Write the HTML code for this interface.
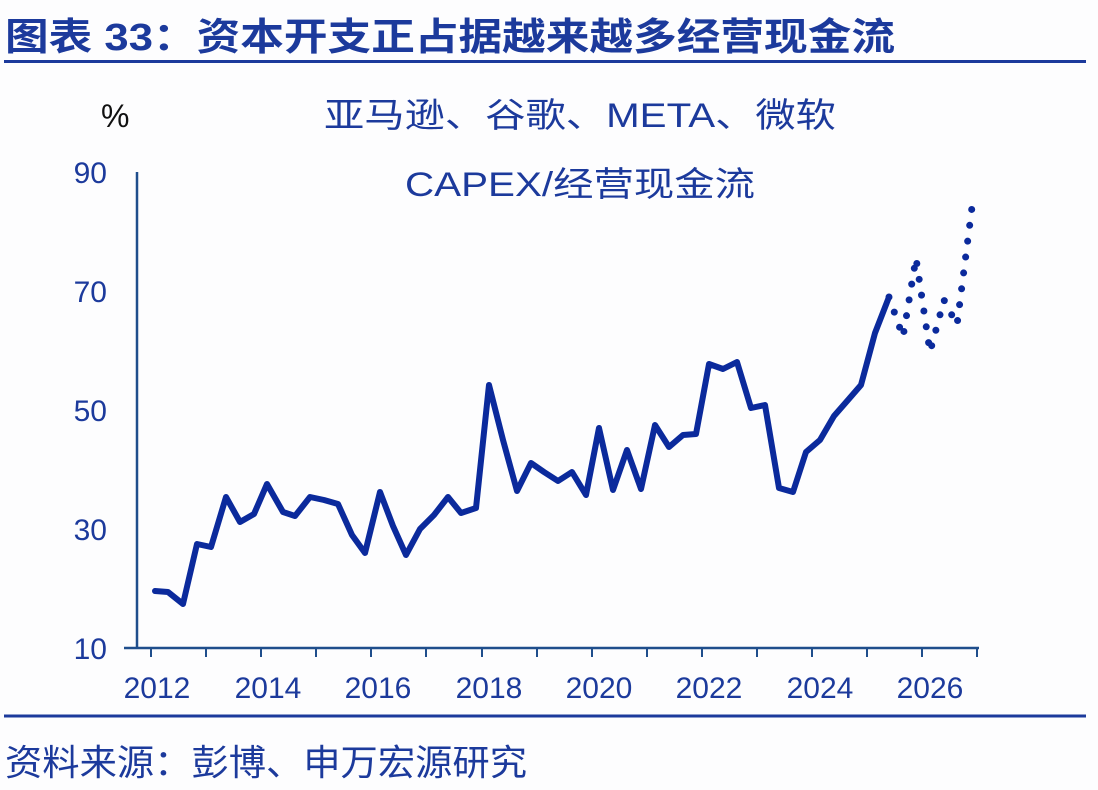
<!DOCTYPE html>
<html><head><meta charset="utf-8"><style>
html,body{margin:0;padding:0;background:#fdfdfe;}
svg{display:block}
</style></head><body>
<svg width="1098" height="790" viewBox="0 0 1098 790" xmlns="http://www.w3.org/2000/svg" font-family="'Liberation Sans','Noto Sans CJK SC',sans-serif">
<rect width="1098" height="790" fill="#fdfdfe"/>
<text x="5" y="50" font-size="38" font-weight="bold" fill="#1c3a9c" textLength="890" lengthAdjust="spacingAndGlyphs">图表 33：资本开支正占据越来越多经营现金流</text>
<line x1="4" y1="61.5" x2="1086" y2="61.5" stroke="#1c3a9c" stroke-width="3"/>
<text x="101" y="127" font-size="32" fill="#111">%</text>
<text x="580" y="127" font-size="34" fill="#1c3a9c" text-anchor="middle" textLength="512" lengthAdjust="spacingAndGlyphs">亚马逊、谷歌、META、微软</text>
<text x="580" y="196" font-size="34" fill="#1c3a9c" text-anchor="middle" textLength="350" lengthAdjust="spacingAndGlyphs">CAPEX/经营现金流</text>
<g font-size="30" fill="#1c3a9c" text-anchor="end">
<text x="107" y="183">90</text>
<text x="107" y="302">70</text>
<text x="107" y="421">50</text>
<text x="107" y="540">30</text>
<text x="107" y="659">10</text>
</g>
<line x1="137" y1="172" x2="137" y2="648" stroke="#1f4e8c" stroke-width="2.5"/>
<line x1="124" y1="648" x2="979" y2="648" stroke="#1f4e8c" stroke-width="2.5"/>
<g stroke="#1f4e8c" stroke-width="2">
<line x1="151" y1="648" x2="151" y2="657"/><line x1="206" y1="648" x2="206" y2="657"/>
<line x1="261" y1="648" x2="261" y2="657"/><line x1="316" y1="648" x2="316" y2="657"/>
<line x1="371" y1="648" x2="371" y2="657"/><line x1="426" y1="648" x2="426" y2="657"/>
<line x1="482" y1="648" x2="482" y2="657"/><line x1="537" y1="648" x2="537" y2="657"/>
<line x1="592" y1="648" x2="592" y2="657"/><line x1="647" y1="648" x2="647" y2="657"/>
<line x1="702" y1="648" x2="702" y2="657"/><line x1="757" y1="648" x2="757" y2="657"/>
<line x1="812" y1="648" x2="812" y2="657"/><line x1="867" y1="648" x2="867" y2="657"/>
<line x1="922" y1="648" x2="922" y2="657"/><line x1="977" y1="648" x2="977" y2="657"/>
</g>
<g font-size="30" fill="#1c3a9c" text-anchor="middle">
<text x="157" y="698">2012</text><text x="268" y="698">2014</text><text x="378" y="698">2016</text>
<text x="489" y="698">2018</text><text x="599" y="698">2020</text><text x="709" y="698">2022</text>
<text x="820" y="698">2024</text><text x="930" y="698">2026</text>
</g>
<polyline fill="none" stroke="#0b2a9c" stroke-width="6" stroke-linejoin="round" stroke-linecap="round" points="155,591 168,592 183,604 197,544 211,547 226,497 240,522 254,514 267,484 283,512 295,516 310,497 324,500 338,504 352,535 365,553 380,492 393,526 406,555 420,529 434,515 448,497 461,513 476,508 489,385 503,440 517,491 531,463 544,472 558,481 572,472 586,495 599,428 613,490 627,450 641,489 655,425 669,447 683,435 696,434 709,364 723,369 737,362 751,408 765,405 779,488 793,492 806,452 820,440 834,416 848,400 861,385 875,333 889,297"/>
<polyline fill="none" stroke="#0b2a9c" stroke-width="7" stroke-linecap="round" stroke-dasharray="0 16" points="889,297 903,337 916,258 930,352 944,300 957,325 972,207"/>
<line x1="4" y1="716" x2="1086" y2="716" stroke="#1c3a9c" stroke-width="3"/>
<text x="5" y="775" font-size="36" fill="#1c3a9c" textLength="522" lengthAdjust="spacingAndGlyphs">资料来源：彭博、申万宏源研究</text>
</svg>
</body></html>
